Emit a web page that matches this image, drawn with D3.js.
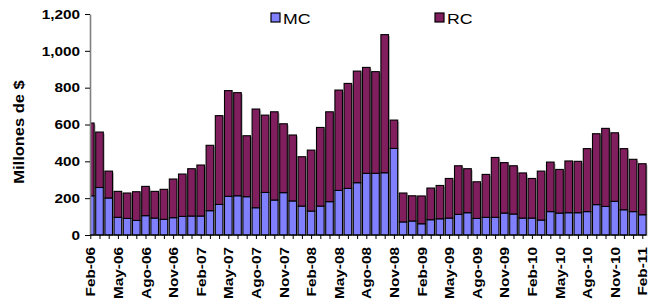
<!DOCTYPE html>
<html lang="es">
<head>
<meta charset="utf-8">
<style>
  body { margin: 0; background: #fff; }
  svg text { font-family: "Liberation Sans", Arial, sans-serif; fill: #000; }
</style>
</head>
<body>
<svg width="657" height="303"></svg>
<script src="https://d3js.org/d3.v7.min.js"></script>
<script>
// categories (monthly)
var categories = [
  "Feb-06","Mar-06","Abr-06","May-06","Jun-06","Jul-06","Ago-06","Sep-06","Oct-06","Nov-06","Dic-06","Ene-07",
  "Feb-07","Mar-07","Abr-07","May-07","Jun-07","Jul-07","Ago-07","Sep-07","Oct-07","Nov-07","Dic-07","Ene-08",
  "Feb-08","Mar-08","Abr-08","May-08","Jun-08","Jul-08","Ago-08","Sep-08","Oct-08","Nov-08","Dic-08","Ene-09",
  "Feb-09","Mar-09","Abr-09","May-09","Jun-09","Jul-09","Ago-09","Sep-09","Oct-09","Nov-09","Dic-09","Ene-10",
  "Feb-10","Mar-10","Abr-10","May-10","Jun-10","Jul-10","Ago-10","Sep-10","Oct-10","Nov-10","Dic-10","Ene-11",
  "Feb-11"
];
var mc = [
  213,258,201,96,90,79,105,92,85,94,101,103,
  103,132,166,210,213,208,148,231,190,230,185,157,
  130,157,181,242,253,284,335,335,338,470,71,76,
  61,83,88,92,112,121,90,96,96,119,114,92,
  92,81,127,119,121,121,127,165,155,183,137,127,
  110
];
var rc = [
  395,301,146,141,138,156,159,145,163,210,230,257,
  277,355,482,574,560,331,536,420,479,374,358,268,
  331,427,488,545,570,606,575,552,750,154,157,137,
  151,172,181,215,264,239,199,233,325,274,262,245,
  215,266,269,237,281,279,342,385,424,372,332,284,
  277
];
var yTicks = [0, 200, 400, 600, 800, 1000, 1200];
var seriesNames = ["MC", "RC"];
var colors = { MC: "#8080FF", RC: "#801E5E" };

var svg = d3.select("svg");
var stretch = 1.18; // text in the picture is a little wide

var x = d3.scalePoint().domain(categories).range([90.3, 642.3]);
var y = d3.scaleLinear().domain([0, 1200]).range([235, 14]);
var barW = 7.6;

var rows = categories.map(function (c, i) {
  return { cat: c, MC: mc[i], RC: rc[i] };
});
var stacked = d3.stack().keys(seriesNames)(rows);

// clip so the first bar is cut at the value axis
svg.append("defs").append("clipPath").attr("id", "plotclip")
  .append("rect").attr("x", 90).attr("y", 0).attr("width", 567).attr("height", 236);

var plot = svg.append("g").attr("clip-path", "url(#plotclip)");

// shadows
plot.selectAll(".shadow")
  .data(rows)
  .enter().append("rect")
  .attr("class", "shadow")
  .attr("x", function (d) { return x(d.cat) - barW / 2 + 1.5; })
  .attr("y", function (d) { return y(d.MC + d.RC) + 1.5; })
  .attr("width", barW)
  .attr("height", function (d) { return y(0) - y(d.MC + d.RC); })
  .attr("fill", "#bdbdbd");

plot.selectAll(".series")
  .data(stacked)
  .enter().append("g")
  .attr("class", "series")
  .attr("fill", function (d) { return colors[d.key]; })
  .selectAll("rect")
  .data(function (d) { return d; })
  .enter().append("rect")
  .attr("x", function (d) { return x(d.data.cat) - barW / 2; })
  .attr("y", function (d) { return y(d[1]); })
  .attr("width", barW)
  .attr("height", function (d) { return y(d[0]) - y(d[1]); })
  .attr("stroke", "#000")
  .attr("stroke-width", 1.1);

// y axis
var yAxis = svg.append("g")
  .attr("transform", "translate(90,0)")
  .call(d3.axisLeft(y).tickValues(yTicks).tickSize(5).tickSizeOuter(0).tickFormat(d3.format(",")));
yAxis.select(".domain").attr("stroke", "#808080").attr("stroke-width", 1.6);
yAxis.selectAll(".tick line").attr("stroke", "#000");
yAxis.selectAll(".tick text")
  .attr("x", -10 / stretch)
  .attr("transform", "scale(" + stretch + ",1)")
  .style("font-size", "13px")
  .style("font-weight", "bold");

// x axis
var xAxis = svg.append("g")
  .attr("transform", "translate(0,235)")
  .call(d3.axisBottom(x).tickSize(4).tickSizeOuter(0)
    .tickFormat(function (d, i) { return i % 3 === 0 ? d : ""; }));
xAxis.select(".domain").attr("d", "M90,0H646").attr("stroke", "#000").attr("stroke-width", 1.2);
xAxis.selectAll(".tick line").attr("stroke", "#000");
xAxis.selectAll(".tick text")
  .attr("transform", "rotate(-90) scale(" + stretch + ",1)")
  .attr("x", -12 / stretch)
  .attr("y", 0)
  .attr("dy", "0.36em")
  .attr("text-anchor", "end")
  .style("font-size", "13px")
  .style("font-weight", "bold");

// y title
svg.append("text")
  .attr("transform", "translate(24,132) rotate(-90) scale(1.1,1)")
  .attr("text-anchor", "middle")
  .style("font-size", "15px")
  .style("font-weight", "bold")
  .text("Millones de $");

// legend
var legendX = { MC: 271, RC: 435 };
var legend = svg.selectAll(".legend")
  .data(seriesNames)
  .enter().append("g")
  .attr("class", "legend")
  .attr("transform", function (d) { return "translate(" + legendX[d] + ",13)"; });
legend.append("rect")
  .attr("width", 9).attr("height", 9)
  .attr("fill", function (d) { return colors[d]; })
  .attr("stroke", "#000").attr("stroke-width", 1.2);
legend.append("text")
  .attr("transform", "translate(12,10.5) scale(1.18,1)")
  .style("font-size", "15px")
  .text(function (d) { return d; });
</script>
</body>
</html>
